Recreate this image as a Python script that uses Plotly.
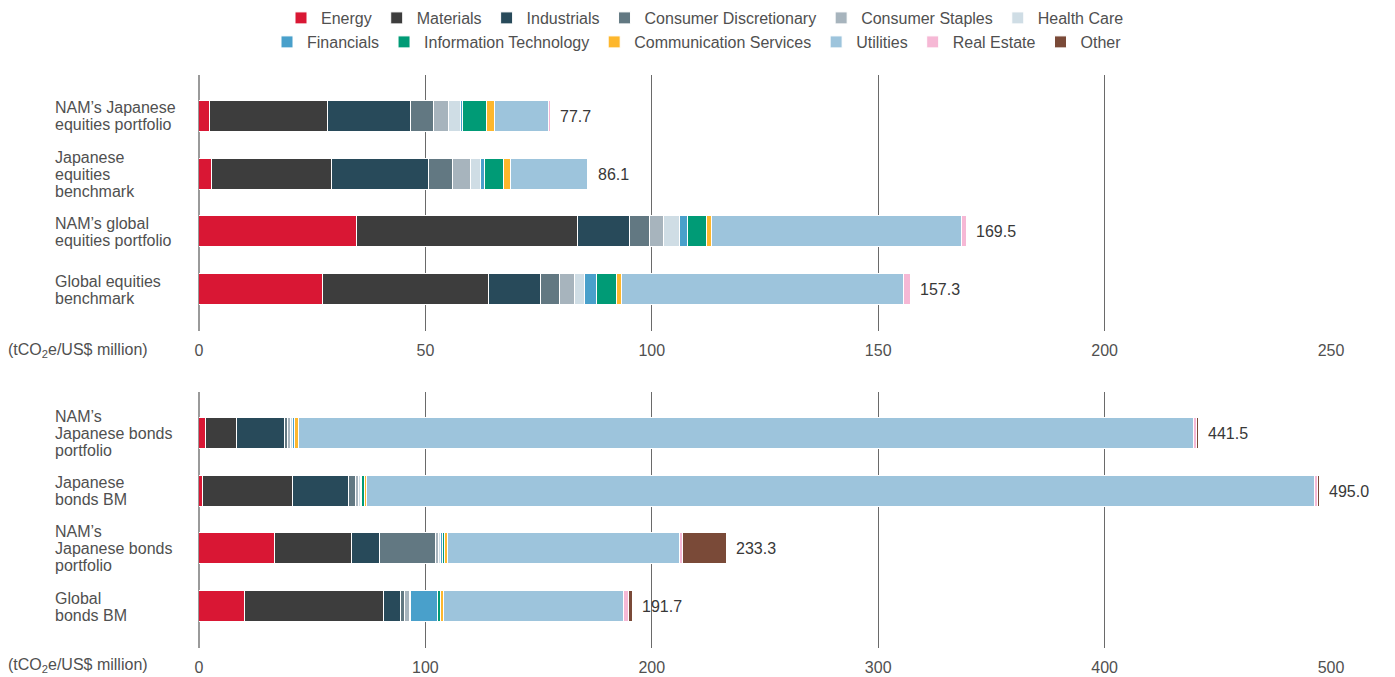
import plotly.graph_objects as go
from plotly.subplots import make_subplots

# ---------------- data ----------------
sectors = ["Energy", "Materials", "Industrials", "Consumer Discretionary",
           "Consumer Staples", "Health Care", "Financials", "Information Technology",
           "Communication Services", "Utilities", "Real Estate", "Other"]

colors = ["#D91734", "#3D3D3D", "#284A5A", "#627882", "#A7B4BD", "#CFDDE5",
          "#49A0CB", "#009B76", "#FDB72D", "#9DC4DC", "#F6B8D5", "#7A4A38"]

equity_labels = [["NAM’s Japanese", "equities portfolio"],
                 ["Japanese", "equities", "benchmark"],
                 ["NAM’s global", "equities portfolio"],
                 ["Global equities", "benchmark"]]
bond_labels = [["NAM’s", "Japanese bonds", "portfolio"],
               ["Japanese", "bonds BM"],
               ["NAM’s", "Japanese bonds", "portfolio"],
               ["Global", "bonds BM"]]

equity_totals = [77.7, 86.1, 169.5, 157.3]
bond_totals = [441.5, 495.0, 233.3, 191.7]

# sector values (same order as `sectors`)
nam_jp_equities = [2.5, 25.9, 18.4, 5.0, 3.5, 2.5, 0.6, 5.3, 1.6, 12.0, 0.4, 0.0]
jp_equities_bm = [2.9, 26.4, 21.6, 5.3, 3.8, 2.3, 0.8, 4.3, 1.5, 16.9, 0.3, 0.0]
nam_gl_equities = [35.0, 48.7, 11.4, 4.6, 3.1, 3.4, 1.9, 4.2, 0.9, 55.3, 1.0, 0.0]
gl_equities_bm = [27.3, 36.7, 11.5, 4.3, 3.3, 2.2, 2.5, 4.6, 1.1, 62.3, 1.5, 0.0]

nam_jp_bonds = [2.9, 14.1, 20.8, 1.6, 1.1, 1.0, 0.8, 0.3, 1.5, 395.3, 1.5, 0.6]
jp_bonds_bm = [1.8, 39.8, 24.7, 3.0, 1.5, 0.9, 0.3, 1.5, 0.9, 418.5, 1.5, 0.6]
nam_gl_bonds = [33.4, 34.1, 12.6, 24.6, 1.1, 1.1, 0.8, 0.8, 1.4, 102.7, 1.3, 19.4]
gl_bonds_bm = [20.1, 61.8, 7.4, 1.5, 2.4, 0.6, 11.7, 1.2, 1.5, 79.5, 2.1, 1.9]

equity_rows = [nam_jp_equities, jp_equities_bm, nam_gl_equities, gl_equities_bm]
bond_rows = [nam_jp_bonds, jp_bonds_bm, nam_gl_bonds, gl_bonds_bm]

equity_ticks = [0, 50, 100, 150, 200, 250]
bond_ticks = [0, 100, 200, 300, 400, 500]
unit_label = "(tCO<sub>2</sub>e/US$ million)"

# ---------------- figure ----------------
OFF = 8                      # page body margin of the browser
W, H = 1395 - OFF, 677 - OFF
L = 199 - OFF
R = W - (1331 - OFF)
PW = W - L - R
FONT = "Liberation Sans, Arial, sans-serif"
TXT = "#505050"


def py(ref_y):
    """page pixel row -> paper fraction"""
    return 1 - (ref_y - OFF) / H


def px(ref_x):
    """page pixel column -> paper fraction"""
    return (ref_x - OFF - L) / PW


fig = make_subplots(rows=2, cols=1)
positions = [0, 1, 2, 3]

for i, name in enumerate(sectors):
    legend_id = "legend" if i < 6 else "legend2"
    fig.add_trace(go.Bar(
        orientation="h", name=name, y=positions,
        x=[row[i] for row in equity_rows],
        marker=dict(color=colors[i], line=dict(color="white", width=1)),
        width=0.535, legend=legend_id, showlegend=True,
        hovertemplate=name + ": %{x}<extra></extra>"), row=1, col=1)
    fig.add_trace(go.Bar(
        orientation="h", name=name, y=positions,
        x=[row[i] for row in bond_rows],
        marker=dict(color=colors[i], line=dict(color="white", width=1)),
        width=0.535, legend=legend_id, showlegend=False,
        hovertemplate=name + ": %{x}<extra></extra>"), row=2, col=1)

axis_common = dict(showgrid=True, gridcolor="#6a6a6a", gridwidth=1,
                   zeroline=True, zerolinecolor="#9a9a9a", zerolinewidth=2,
                   showline=False, ticks="", ticklabelstandoff=8,
                   tickfont=dict(family=FONT, size=16, color=TXT))
fig.update_xaxes(range=[0, 250], tickvals=equity_ticks, domain=[0, 1],
                 **axis_common, row=1, col=1)
fig.update_xaxes(range=[0, 500], tickvals=bond_ticks, domain=[0, 1],
                 **axis_common, row=2, col=1)
fig.update_yaxes(range=[3.71, -0.71], showticklabels=False, showgrid=False,
                 zeroline=False, showline=False)
fig.update_layout(
    yaxis=dict(domain=[py(331), py(75)]),
    yaxis2=dict(domain=[py(648), py(392)]),
)

annotations = []
for yref, labels, totals in (("y", equity_labels, equity_totals),
                             ("y2", bond_labels, bond_totals)):
    xref = "x" if yref == "y" else "x2"
    for k, lines in enumerate(labels):
        n = len(lines)
        for j, line in enumerate(lines):
            annotations.append(dict(
                text=line, xref="paper", yref=yref, x=px(55), y=positions[k],
                xanchor="left", yanchor="middle", showarrow=False, borderpad=0,
                xshift=-1, yshift=-(j - (n - 1) / 2) * 17,
                font=dict(family=FONT, size=16, color=TXT)))
        annotations.append(dict(
            text=f"{totals[k]:.1f}", xref=xref, yref=yref, x=totals[k], y=positions[k],
            xanchor="left", yanchor="middle", showarrow=False, xshift=7,
            font=dict(family=FONT, size=16, color="#383838")))

for ypix in (350, 665):
    annotations.append(dict(
        text=unit_label, xref="paper", yref="paper", x=px(8), y=py(ypix),
        xanchor="left", yanchor="middle", showarrow=False, borderpad=0, xshift=-1,
        font=dict(family=FONT, size=16, color=TXT)))

legend_common = dict(orientation="h", xref="paper", yref="paper",
                     xanchor="center", yanchor="middle", traceorder="normal",
                     font=dict(family=FONT, size=16, color=TXT),
                     bgcolor="rgba(0,0,0,0)", itemclick=False, itemdoubleclick=False,
                     tracegroupgap=0, itemwidth=30)

fig.update_layout(
    width=W, height=H,
    margin=dict(l=L, r=R, t=0, b=0, autoexpand=False),
    paper_bgcolor="white", plot_bgcolor="white",
    barmode="stack", bargap=0,
    font=dict(family=FONT, size=16, color=TXT),
    legend=dict(x=px(705), y=py(18), **legend_common),
    legend2=dict(x=px(697), y=py(42), **legend_common),
    annotations=annotations,
)

fig.write_html("out.html")
